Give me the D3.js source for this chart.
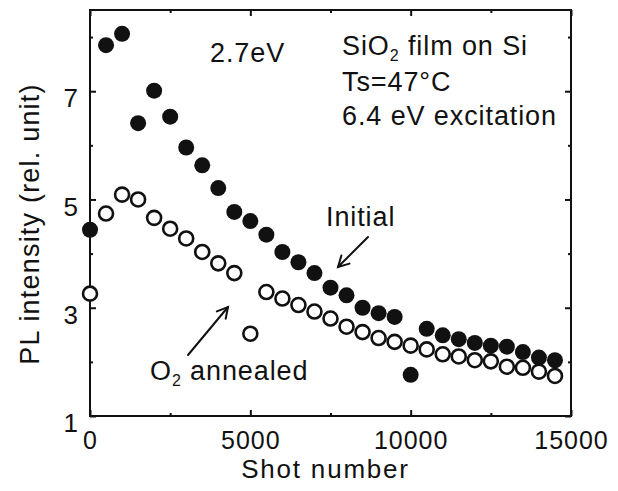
<!DOCTYPE html>
<html>
<head>
<meta charset="utf-8">
<script src="https://cdn.jsdelivr.net/npm/d3@7/dist/d3.min.js"></script>
<style>
  html, body { margin: 0; padding: 0; background: #fff; }
  svg { display: block; }
  text { font-family: "Liberation Sans", Arial, Helvetica, sans-serif; fill: #111; }
</style>
</head>
<body>
<div id="chart"></div>
<script>
// Shot numbers (every 500 shots)
const shots = [0, 500, 1000, 1500, 2000, 2500, 3000, 3500, 4000, 4500,
  5000, 5500, 6000, 6500, 7000, 7500, 8000, 8500, 9000, 9500,
  10000, 10500, 11000, 11500, 12000, 12500, 13000, 13500, 14000, 14500];

// 2.7 eV PL intensity, initial film (filled circles)
const initialPL = [4.44, 7.85, 8.06, 6.41, 7.01, 6.53, 5.96, 5.63, 5.21, 4.77,
  4.60, 4.35, 4.03, 3.84, 3.64, 3.37, 3.23, 3.00, 2.90, 2.83,
  1.76, 2.61, 2.49, 2.42, 2.35, 2.30, 2.28, 2.18, 2.08, 2.03];

// 2.7 eV PL intensity, O2-annealed film (open circles)
const annealedPL = [3.26, 4.74, 5.09, 5.00, 4.66, 4.46, 4.28, 4.03, 3.82, 3.64,
  2.52, 3.29, 3.17, 3.05, 2.93, 2.80, 2.65, 2.55, 2.44, 2.37,
  2.30, 2.23, 2.14, 2.10, 2.03, 2.01, 1.91, 1.89, 1.82, 1.74];

const xMajorTicks = [0, 5000, 10000, 15000];
const xMinorTicks = [2500, 7500, 12500];
const yMajorTicks = [1, 3, 5, 7];
const yMinorTicks = [2, 4, 6, 8];

const W = 618, H = 491;
const svg = d3.select("#chart").append("svg")
  .attr("width", W).attr("height", H);

const x = d3.scaleLinear().domain([0, 15000]).range([90, 571]);
const y = d3.scaleLinear().domain([1, 8.5]).range([416, 10]);

const [x0, x1] = x.range();
const [y0, y1] = y.range();

// tick marks pointing into the plot on all four sides
function tickStyle(g) {
  g.select(".domain").remove();
  g.selectAll(".tick line").attr("stroke", "#111").attr("stroke-width", 2);
}
function labelStyle(size, spacing) {
  return g => g.selectAll("text")
    .attr("font-size", size).attr("fill", "#111")
    .attr("letter-spacing", spacing)
    .style("font-family", "Liberation Sans, Arial, sans-serif");
}

svg.append("g").attr("transform", `translate(0,${y0})`)
  .call(d3.axisBottom(x).tickValues(xMajorTicks).tickSizeInner(-6).tickSizeOuter(0)
    .tickPadding(15).tickFormat(d3.format("d")))
  .call(tickStyle)
  .call(labelStyle(25, 1));
svg.append("g").attr("transform", `translate(0,${y0})`)
  .call(d3.axisBottom(x).tickValues(xMinorTicks).tickSizeInner(-3).tickSizeOuter(0).tickFormat(""))
  .call(tickStyle);

svg.append("g").attr("transform", `translate(0,${y1})`)
  .call(d3.axisTop(x).tickValues(xMajorTicks).tickSizeInner(-6).tickSizeOuter(0).tickFormat(""))
  .call(tickStyle);
svg.append("g").attr("transform", `translate(0,${y1})`)
  .call(d3.axisTop(x).tickValues(xMinorTicks).tickSizeInner(-3).tickSizeOuter(0).tickFormat(""))
  .call(tickStyle);

svg.append("g").attr("transform", `translate(${x0},0)`)
  .call(d3.axisLeft(y).tickValues(yMajorTicks).tickSizeInner(-6).tickSizeOuter(0)
    .tickPadding(12).tickFormat(d3.format("d")))
  .call(tickStyle)
  .call(labelStyle(26, 0))
  .call(g => g.selectAll("text").attr("dy", "0.6em"));
svg.append("g").attr("transform", `translate(${x0},0)`)
  .call(d3.axisLeft(y).tickValues(yMinorTicks).tickSizeInner(-3).tickSizeOuter(0).tickFormat(""))
  .call(tickStyle);

svg.append("g").attr("transform", `translate(${x1},0)`)
  .call(d3.axisRight(y).tickValues(yMajorTicks).tickSizeInner(-6).tickSizeOuter(0).tickFormat(""))
  .call(tickStyle);
svg.append("g").attr("transform", `translate(${x1},0)`)
  .call(d3.axisRight(y).tickValues(yMinorTicks).tickSizeInner(-3).tickSizeOuter(0).tickFormat(""))
  .call(tickStyle);

// plot frame
svg.append("rect")
  .attr("x", x0).attr("y", y1)
  .attr("width", x1 - x0).attr("height", y0 - y1)
  .attr("fill", "none").attr("stroke", "#111").attr("stroke-width", 2);

// axis titles
svg.append("text")
  .attr("x", (x0 + x1) / 2 - 5).attr("y", 478)
  .attr("text-anchor", "middle").attr("font-size", 26)
  .attr("letter-spacing", 1.8)
  .text("Shot number");

svg.append("text")
  .attr("transform", `translate(39,${(y0 + y1) / 2 + 11}) rotate(-90)`)
  .attr("text-anchor", "middle").attr("font-size", 27)
  .attr("letter-spacing", 1.2)
  .text("PL intensity (rel. unit)");

// data markers: initial (filled) first, annealed (open) drawn over them
const initialData = shots.map((s, i) => ({ s, v: initialPL[i] }));
const annealedData = shots.map((s, i) => ({ s, v: annealedPL[i] }));

svg.append("g").selectAll("circle").data(initialData).join("circle")
  .attr("cx", d => x(d.s)).attr("cy", d => y(d.v))
  .attr("r", 8).attr("fill", "#111");

svg.append("g").selectAll("circle").data(annealedData).join("circle")
  .attr("cx", d => x(d.s)).attr("cy", d => y(d.v))
  .attr("r", 7).attr("fill", "#fff").attr("stroke", "#111").attr("stroke-width", 2.6);

// annotations
const ann = svg.append("g").attr("font-size", 27).attr("letter-spacing", 0.9);
ann.append("text").attr("x", 210).attr("y", 62).text("2.7eV");

const t1 = ann.append("text").attr("x", 342).attr("y", 55);
t1.append("tspan").text("SiO");
t1.append("tspan").attr("font-size", 16).attr("dy", 6).text("2");
t1.append("tspan").attr("dy", -6).text(" film on Si");

ann.append("text").attr("x", 342).attr("y", 91).text("Ts=47°C");
ann.append("text").attr("x", 342).attr("y", 125).text("6.4 eV excitation");

ann.append("text").attr("x", 326).attr("y", 226).text("Initial");

const t2 = ann.append("text").attr("x", 150).attr("y", 380);
t2.append("tspan").text("O");
t2.append("tspan").attr("font-size", 16).attr("dy", 6).text("2");
t2.append("tspan").attr("dy", -6).text(" annealed");

// pointer arrows with open heads
function arrow(xa, ya, xb, yb) {
  const ang = Math.atan2(yb - ya, xb - xa);
  const len = 12, spread = 0.5;
  const g = svg.append("g").attr("stroke", "#111").attr("stroke-width", 2)
    .attr("fill", "none").attr("stroke-linecap", "round");
  g.append("line").attr("x1", xa).attr("y1", ya).attr("x2", xb).attr("y2", yb);
  g.append("path").attr("d", d3.line()([
    [xb - len * Math.cos(ang - spread), yb - len * Math.sin(ang - spread)],
    [xb, yb],
    [xb - len * Math.cos(ang + spread), yb - len * Math.sin(ang + spread)]
  ]));
}
arrow(368, 237, 338, 267);
arrow(188, 355, 228, 307);
</script>
</body>
</html>
